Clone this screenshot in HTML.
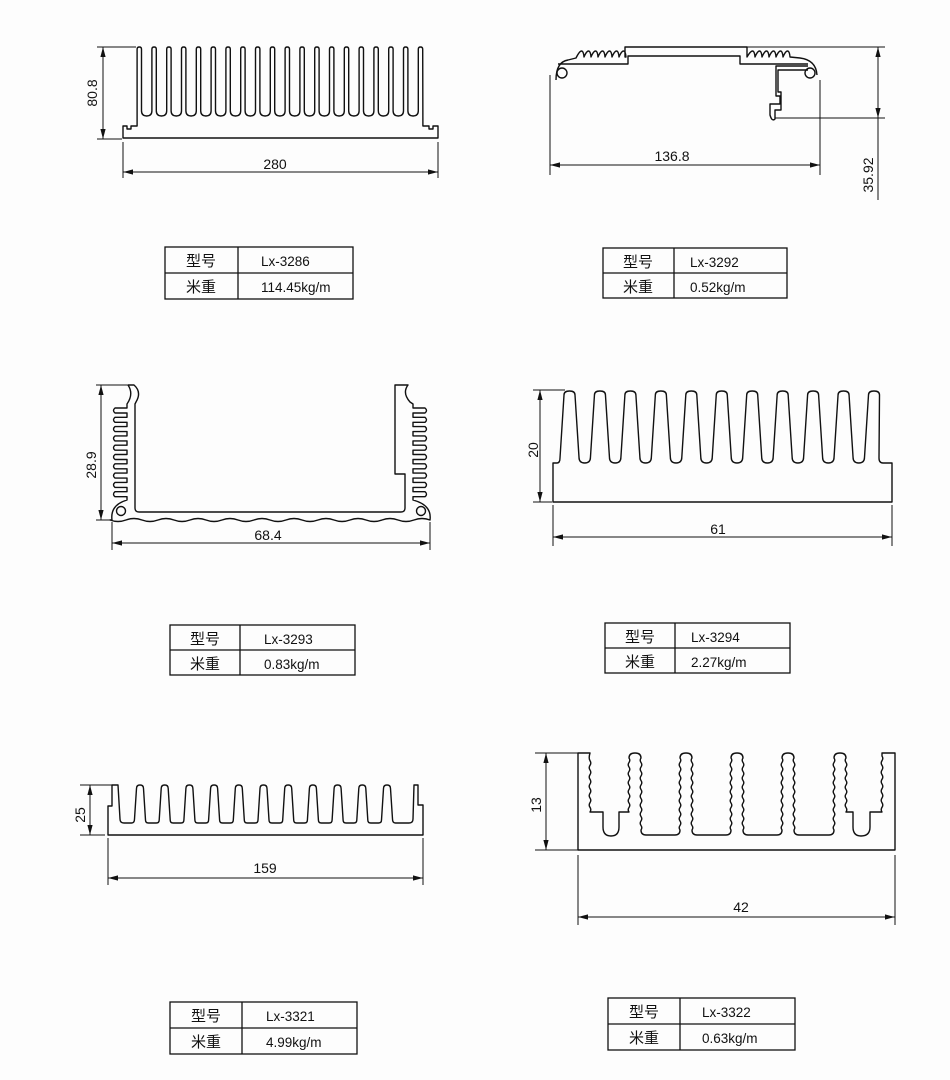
<!DOCTYPE html>
<html><head><meta charset="utf-8"><style>
html,body{margin:0;padding:0;background:#fff;}
svg{display:block;}
text{font-family:"Liberation Sans","Noto Sans CJK SC",sans-serif;fill:#111;}
</style></head><body>
<svg id="s" width="950" height="1080" viewBox="0 0 950 1080" xmlns="http://www.w3.org/2000/svg">
<rect width="950" height="1080" fill="#fdfdfd"/>
<g id="shapes" fill="none" stroke="#111" stroke-width="1.4" stroke-linejoin="round"></g>
<g id="dims" stroke="#111" stroke-width="1"></g>
<g font-size="14">
<text x="275" y="169" text-anchor="middle">280</text>
<text transform="translate(97,93) rotate(-90)" text-anchor="middle">80.8</text>
<text x="672" y="161" text-anchor="middle">136.8</text>
<text transform="translate(873,175) rotate(-90)" text-anchor="middle">35.92</text>
<text x="268" y="540" text-anchor="middle">68.4</text>
<text transform="translate(96,465) rotate(-90)" text-anchor="middle">28.9</text>
<text x="718" y="534" text-anchor="middle">61</text>
<text transform="translate(538,450) rotate(-90)" text-anchor="middle">20</text>
<text x="265" y="873" text-anchor="middle">159</text>
<text transform="translate(85,815) rotate(-90)" text-anchor="middle">25</text>
<text x="741" y="912" text-anchor="middle">42</text>
<text transform="translate(541,805) rotate(-90)" text-anchor="middle">13</text>
</g>
<g id="tables" fill="none" stroke="#111" stroke-width="1.3"></g>
<g font-size="13.5">
<text x="201" y="266" text-anchor="middle" font-size="15">型号</text><text x="261" y="266">Lx-3286</text>
<text x="201" y="292" text-anchor="middle" font-size="15">米重</text><text x="261" y="292">114.45kg/m</text>
<text x="638" y="267" text-anchor="middle" font-size="15">型号</text><text x="690" y="267">Lx-3292</text>
<text x="638" y="292" text-anchor="middle" font-size="15">米重</text><text x="690" y="292">0.52kg/m</text>
<text x="205" y="644" text-anchor="middle" font-size="15">型号</text><text x="264" y="644">Lx-3293</text>
<text x="205" y="669" text-anchor="middle" font-size="15">米重</text><text x="264" y="669">0.83kg/m</text>
<text x="640" y="642" text-anchor="middle" font-size="15">型号</text><text x="691" y="642">Lx-3294</text>
<text x="640" y="667" text-anchor="middle" font-size="15">米重</text><text x="691" y="667">2.27kg/m</text>
<text x="206" y="1021" text-anchor="middle" font-size="15">型号</text><text x="266" y="1021">Lx-3321</text>
<text x="206" y="1047" text-anchor="middle" font-size="15">米重</text><text x="266" y="1047">4.99kg/m</text>
<text x="644" y="1017" text-anchor="middle" font-size="15">型号</text><text x="702" y="1017">Lx-3322</text>
<text x="644" y="1043" text-anchor="middle" font-size="15">米重</text><text x="702" y="1043">0.63kg/m</text>
</g>
</svg>
<script>
const NS="http://www.w3.org/2000/svg";
function add(g,tag,attrs){const e=document.createElementNS(NS,tag);for(const k in attrs)e.setAttribute(k,attrs[k]);document.getElementById(g).appendChild(e);return e;}
function P(d){add('shapes','path',{d:d});}
function comb(cs,top,gb,wt,wb,gr){let s='';cs.forEach((c,i)=>{const r=Math.min(wt,4);s+=` L ${c-wt} ${top+r} Q ${c-wt} ${top} ${c} ${top} Q ${c+wt} ${top} ${c+wt} ${top+r}`;if(i<cs.length-1){const n=cs[i+1];const a=c+wb,b=n-wb,g=(b-a)/2;const q=gr||g;s+=` L ${a} ${gb-q} Q ${a} ${gb} ${a+q} ${gb} L ${b-q} ${gb} Q ${b} ${gb} ${b} ${gb-q}`;}});return s;}
function wavy(x,y1,y2,amp){let s='';const n=Math.max(1,Math.round(Math.abs(y2-y1)/4.5));const d=(y2-y1)/n;for(let i=0;i<n;i++){const ya=y1+d*i;s+=` Q ${x+amp*(i%2?1:-1)} ${ya+d/2} ${x} ${ya+d}`;}return s;}
function L(x1,y1,x2,y2){add('dims','line',{x1,y1,x2,y2});}
function arr(x,y,dir){let p;const l=10,w=2.6;if(dir=='l')p=`${x},${y} ${x+l},${y-w} ${x+l},${y+w}`;if(dir=='r')p=`${x},${y} ${x-l},${y-w} ${x-l},${y+w}`;if(dir=='u')p=`${x},${y} ${x-w},${y+l} ${x+w},${y+l}`;if(dir=='d')p=`${x},${y} ${x-w},${y-l} ${x+w},${y-l}`;add('dims','polygon',{points:p,fill:'#111',stroke:'none'});}
function hd(x1,x2,y){L(x1,y,x2,y);arr(x1,y,'l');arr(x2,y,'r');}
function vd(x,y1,y2){L(x,y1,x,y2);arr(x,y1,'u');arr(x,y2,'d');}
function tbl(x1,x2,y1,y2,c){const m=(y1+y2)/2;add('tables','rect',{x:x1,y:y1,width:x2-x1,height:y2-y1});add('tables','line',{x1:x1,y1:m,x2:x2,y2:m});add('tables','line',{x1:c,y1:y1,x2:c,y2:y2});}

// Profile 1 (3286)
{let cs=[];for(let i=0;i<20;i++)cs.push(139.3+i*14.8);
P(`M 123 138 L 123 126 L 127 126 L 127 129 L 131 129 L 131 126 L 137.1 126`+comb(cs,47,116,2.2,2.2)+` L 422.9 126 L 429 126 L 429 129 L 433 129 L 433 126 L 438 126 L 438 138 Z`);
L(97,47,136,47);L(97,139,122,139);vd(103,47,139);L(123,142,123,178);L(438,142,438,178);hd(123,438,172);tbl(165,353,247,299,238);}

// Profile 2 (3292)
{let top=`M 556 80 Q 556 62 568 60 L 576 58`;
for(let x=578;x<622;x+=7){top+=` Q ${x+1.5} 51 ${x+3.5} 51 Q ${x+5.5} 51 ${x+6} 57`;}
top+=` L 625 57 L 625 47 L 747 47 L 747 57`;
for(let x=749;x<790;x+=7){top+=` Q ${x+1.5} 51 ${x+3.5} 51 Q ${x+5.5} 51 ${x+6} 57`;}
top+=` L 800 58 Q 816 60 817 75`;P(top);
P(`M 558 64 L 628 64 L 628 56 L 740 56 L 740 64 L 808 64`);
add('shapes','circle',{cx:562,cy:73,r:5});add('shapes','circle',{cx:810,cy:73,r:5});
P(`M 808 66 L 776 66 L 776 96 L 780 96 L 780 104 L 770 104 L 770 115 Q 772 122 775 119 L 775 110 L 781 110 L 781 92 L 778 92 L 778 70 L 808 70`);
L(550,75,550,175);L(820,80,820,175);hd(550,820,165);
L(747,47,885,47);L(775,118,885,118);vd(878,47,118);L(878,118,878,200);tbl(603,787,248,298,674);}

// Profile 3 (3293)
{let s=`M 128 385 L 134 385 Q 142 392 136 402 L 135 404 L 135 508 Q 135 512 139 512 L 401 512 Q 405 512 405 508 L 405 474 L 395 474 L 395 385 L 408 385 Q 402 393 410 402 L 413 404`;
for(let k=0;k<10;k++){const y=408+k*9.3;s+=` L 413 ${y} L 425 ${y} Q 428 ${y+2.5} 425 ${y+5} L 413 ${y+5}`;}
s+=` L 413 500 Q 432 505 430 520`;
for(let x=430;x>114;x-=16){s+=` Q ${x-8} ${x%32<16?517:523} ${x-16} 520`;}
s+=` L 112 520 Q 110 505 127 500`;
for(let k=9;k>=0;k--){const y=408+k*9.3;s+=` L 127 ${y+5} L 115 ${y+5} Q 112 ${y+2.5} 115 ${y} L 127 ${y}`;}
s+=` L 127 404 Q 134 394 128 385`;P(s);
add('shapes','circle',{cx:121,cy:511,r:4.5});add('shapes','circle',{cx:421,cy:511,r:4.5});
L(96,385,130,385);L(96,520,111,520);vd(101,385,520);L(112,522,112,550);L(430,522,430,550);hd(112,430,543);tbl(170,355,625,675,240);}

// Profile 4 (3294)
{let cs=[];for(let i=0;i<11;i++)cs.push(569.5+i*30.45);
P(`M 553 502 L 553 463 L 557 463 Q 560 463 560 458`+comb(cs,391,463,5.5,9.5)+` L 879 458 Q 879 463 883 463 L 892 463 L 892 502 Z`);
L(533,390,565,390);L(533,502,552,502);vd(540,390,502);L(553,505,553,546);L(892,505,892,546);hd(553,892,537);tbl(605,790,623,673,675);}

// Profile 5 (3321)
{let cs=[];for(let i=0;i<11;i++)cs.push(140+i*24.7);
let s=`M 108 835 L 108 806 L 112 806 L 112 785 L 118 785 L 120 819 Q 120 823 124 823`;
s+=` L ${cs[0]-5.5-3} 823 Q ${cs[0]-5.5} 823 ${cs[0]-5.5} 819`;
s+=comb(cs,785,823,3.5,5.5,3);
const lc=cs[10];s+=` L ${lc+5.5} 819 Q ${lc+5.5} 823 ${lc+8.5} 823 L 409 823 Q 413 823 413 819 L 414 785 L 418 785 L 418 805 L 423 805 L 423 835 Z`;P(s);
L(80,785,112,785);L(80,835,105,835);vd(90,785,835);L(108,838,108,885);L(423,838,423,885);hd(108,423,878);tbl(170,357,1002,1054,242);}

// Profile 6 (3322)
{const cs=[635,686,737,788,840];
let s=`M 578 850 L 578 753 L 590 753`+wavy(590,756,812,1.6)+` L 603 812 L 603 827 Q 603 836 611 836 Q 619 836 619 827 L 619 812 L 629 812`;
cs.forEach((c,i)=>{const a=c-6,b=c+6;if(i>0){s+=wavy(a,830,758,1.6);}else{s+=wavy(a,812,758,1.6);}
s+=` Q ${a} 753 ${c} 753 Q ${b} 753 ${b} 758`;
if(i<cs.length-1){s+=wavy(b,758,830,1.6)+` Q ${b} 835 ${b+5} 835 L ${cs[i+1]-11} 835 Q ${cs[i+1]-6} 835 ${cs[i+1]-6} 830`;}
else{s+=wavy(b,758,812,1.6);}});
s+=` L 853 812 L 853 827 Q 853 836 861 836 Q 870 836 870 827 L 870 812 L 882 812`+wavy(882,812,756,1.6)+` L 882 753 L 895 753 L 895 850 Z`;P(s);
L(535,753,578,753);L(535,850,578,850);vd(546,753,850);L(578,855,578,925);L(895,855,895,925);hd(578,895,917);tbl(608,795,998,1050,680);}
</script>
</body></html>
